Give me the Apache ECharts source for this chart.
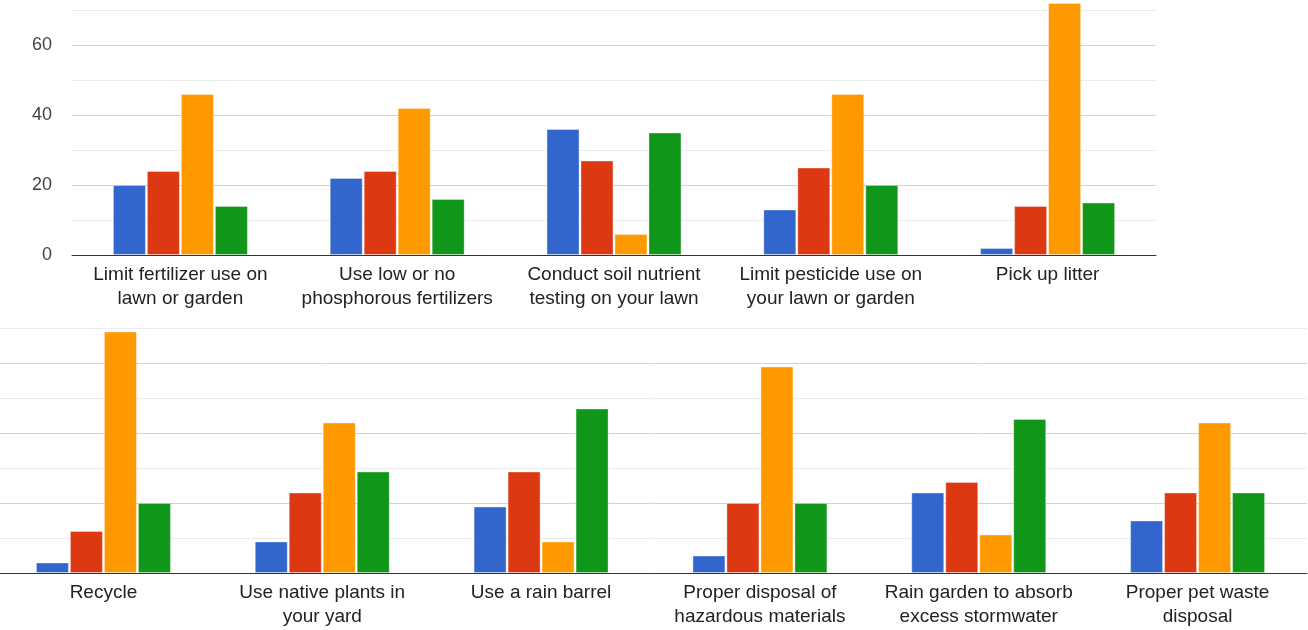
<!DOCTYPE html>
<html>
<head>
<meta charset="utf-8">
<script src="https://cdn.jsdelivr.net/npm/echarts@6/dist/echarts.min.js"></script>
<style>
  html, body { margin: 0; padding: 0; background: #ffffff; overflow: hidden; }
  body { position: relative; width: 1308px; height: 630px; }
  /* canvas is a little wider than the page so the lower panel can bleed off the left edge */
  #chart { position: absolute; left: -6px; top: 0; width: 1320px; height: 630px; }
</style>
</head>
<body>
<div id="chart"></div>
<script>
// Practices, upper panel
const topCategories = [
  'Limit fertilizer use on\nlawn or garden',
  'Use low or no\nphosphorous fertilizers',
  'Conduct soil nutrient\ntesting on your lawn',
  'Limit pesticide use on\nyour lawn or garden',
  'Pick up litter'
];
const topBlue   = [20, 22, 36, 13, 2];
const topRed    = [24, 24, 27, 25, 14];
const topOrange = [46, 42, 6, 46, 72];
const topGreen  = [14, 16, 35, 20, 15];

// Practices, lower panel
const bottomCategories = [
  'Recycle',
  'Use native plants in\nyour yard',
  'Use a rain barrel',
  'Proper disposal of\nhazardous materials',
  'Rain garden to absorb\nexcess stormwater',
  'Proper pet waste\ndisposal'
];
const bottomBlue   = [3, 9, 19, 5, 23, 15];
const bottomRed    = [12, 23, 29, 20, 26, 23];
const bottomOrange = [69, 43, 9, 59, 11, 43];
const bottomGreen  = [20, 29, 47, 20, 44, 23];

// Shared value axis ticks
const yMin = 0;
const yMax = 70;
const yStep = 10;
const yLabelEvery = 20;

const palette = ['#3366cc', '#dc3912', '#ff9900', '#109618'];
const fontFamily = 'Arial, "Liberation Sans", sans-serif';

function xAxisFor(gridIndex, data) {
  return {
    type: 'category',
    gridIndex: gridIndex,
    data: data,
    axisTick: { show: false },
    axisLine: { show: true, lineStyle: { color: '#333333', width: 1 } },
    axisLabel: {
      interval: 0,
      margin: 8,
      color: '#222222',
      fontSize: 19,
      lineHeight: 24,
      fontFamily: fontFamily
    }
  };
}

function yAxisFor(gridIndex, showLabels) {
  return {
    type: 'value',
    gridIndex: gridIndex,
    min: yMin,
    max: yMax,
    interval: yStep,
    axisLine: { show: false },
    axisTick: { show: false },
    axisLabel: {
      show: showLabels,
      margin: 20,
      color: '#444444',
      fontSize: 18,
      fontFamily: fontFamily,
      formatter: v => (v % yLabelEvery === 0 ? String(v) : '')
    },
    splitLine: {
      show: true,
      lineStyle: { color: ['#d2d2d2', '#ececec'], width: 1 }
    }
  };
}

function barsFor(axisIndex, blue, red, orange, green) {
  return [blue, red, orange, green].map((values, i) => ({
    type: 'bar',
    xAxisIndex: axisIndex,
    yAxisIndex: axisIndex,
    data: values,
    barWidth: 33,
    barGap: '3%',
    clip: false,
    itemStyle: {
      color: palette[i],
      borderColor: 'rgba(255,255,255,0.35)',
      borderWidth: 1
    },
    emphasis: { disabled: true },
    silent: true,
    animation: false
  }));
}

const chart = echarts.init(document.getElementById('chart'), null, { renderer: 'canvas' });
chart.setOption({
  backgroundColor: '#ffffff',
  animation: false,
  textStyle: { fontFamily: fontFamily },
  grid: [
    { left: 78, top: 10, width: 1084, height: 245, containLabel: false },
    { left: 0, top: 328, width: 1313, height: 245, containLabel: false }
  ],
  xAxis: [xAxisFor(0, topCategories), xAxisFor(1, bottomCategories)],
  yAxis: [yAxisFor(0, true), yAxisFor(1, false)],
  series: [
    ...barsFor(0, topBlue, topRed, topOrange, topGreen),
    ...barsFor(1, bottomBlue, bottomRed, bottomOrange, bottomGreen)
  ]
});
</script>
</body>
</html>
